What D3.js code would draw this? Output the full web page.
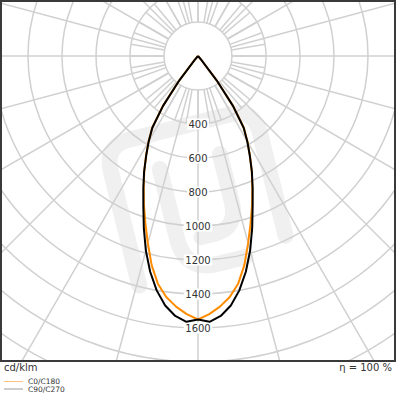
<!DOCTYPE html>
<html>
<head>
<meta charset="utf-8">
<script src="https://cdn.jsdelivr.net/npm/d3@7"></script>
<style>
  html, body { margin: 0; padding: 0; background: #fff; }
  svg { display: block; font-family: "DejaVu Sans", sans-serif; }
</style>
</head>
<body>
<svg id="chart" width="396" height="396"></svg>
<script>
// gamma angles (deg, 0 = straight down) and intensities in cd/klm
const gammaDeg = [0, 2.5, 5, 7.5, 10, 12.5, 15, 17.5, 20, 22.5, 25, 27.5, 30, 32.5, 35, 37.5, 40, 42.5, 45, 90, 180];
const c0c180 = [1550, 1520, 1480, 1430, 1360, 1260, 1140, 1030, 930, 835, 748, 662, 582, 502, 362, 182, 32, 0, 0, 0, 0];
const c90c270 = [1550, 1565, 1535, 1480, 1400, 1300, 1185, 1060, 940, 840, 750, 660, 580, 500, 360, 180, 30, 0, 0, 0, 0];

const ringValues = [200, 400, 600, 800, 1000, 1200, 1400, 1600, 1800, 2000, 2200, 2400];
const ringLabels = [400, 600, 800, 1000, 1200, 1400, 1600];

const unitLabel = 'cd/klm';
const etaLabel = 'η = 100 %';
const seriesNames = ['C0/C180', 'C90/C270'];

const width = 396;
const frame = { x: 1, y: 1, w: 394, h: 360 };
const cx = 198, cy = 56;

const svg = d3.select('#chart');

const r = d3.scaleLinear().domain([0, 200]).range([0, 34]);

svg.append('defs').append('clipPath')
    .attr('id', 'frame-clip')
  .append('rect')
    .attr('x', frame.x + 1)
    .attr('y', frame.y + 1)
    .attr('width', frame.w - 2)
    .attr('height', frame.h - 2);

const plot = svg.append('g').attr('clip-path', 'url(#frame-clip)');

// faint watermark logo
const wm = plot.append('g')
    .attr('transform', 'rotate(-14,200,190)')
    .attr('fill', 'none')
    .attr('stroke', '#f0f0f0')
    .attr('stroke-width', 16)
    .attr('stroke-linecap', 'round')
    .attr('stroke-linejoin', 'round');
wm.append('path')
    .attr('d', 'M118,268 L118,150 Q118,124 144,124 L248,124 Q272,124 272,150 L272,255');
wm.append('path')
    .attr('d', 'M166,160 L166,232 Q166,266 200,266 L228,266');
wm.append('path')
    .attr('d', 'M228,160 L228,208 Q228,236 204,236 L190,236');

// grid rings
const grid = plot.append('g').attr('transform', `translate(${cx},${cy})`);

grid.selectAll('circle.ring')
  .data(ringValues)
  .enter().append('circle')
    .attr('class', 'ring')
    .attr('r', (d) => r(d))
    .attr('fill', 'none')
    .attr('stroke', '#d0d0d0')
    .attr('stroke-width', 1.5);

// radial spokes: every 15 deg across the whole plot, every 10 deg in the inner band
const outerAngles = d3.range(0, 360, 15);
const innerAngles = d3.range(0, 360, 10);

const spokes = outerAngles.map((a) => ({ a, r0: r(200), r1: r(2600) }))
  .concat(innerAngles.map((a) => ({ a, r0: r(200), r1: r(400) })));

grid.selectAll('line.spoke')
  .data(spokes)
  .enter().append('line')
    .attr('class', 'spoke')
    .attr('x1', (d) => d.r0 * Math.sin(d.a * Math.PI / 180))
    .attr('y1', (d) => -d.r0 * Math.cos(d.a * Math.PI / 180))
    .attr('x2', (d) => d.r1 * Math.sin(d.a * Math.PI / 180))
    .attr('y2', (d) => -d.r1 * Math.cos(d.a * Math.PI / 180))
    .attr('stroke', '#d0d0d0')
    .attr('stroke-width', 1.5);

// ring labels on the downward axis
const labels = grid.selectAll('g.label')
  .data(ringLabels)
  .enter().append('g')
    .attr('class', 'label')
    .attr('transform', (d) => `translate(0,${r(d)})`);

labels.append('rect')
    .attr('x', (d) => -String(d).length * 3.3 - 1)
    .attr('y', -5.5)
    .attr('width', (d) => String(d).length * 6.6 + 2)
    .attr('height', 11)
    .attr('fill', '#fff');

labels.append('text')
    .attr('text-anchor', 'middle')
    .attr('dy', '0.35em')
    .attr('font-size', 10)
    .attr('fill', '#333')
    .text((d) => d);

// intensity curves, left half mirrored from right half
const radialLine = d3.lineRadial()
    .angle((d) => d[0])
    .radius((d) => r(d[1]));

function polarPoints(values) {
  const right = gammaDeg.map((g, i) => [Math.PI - g * Math.PI / 180, values[i]]);
  const left = gammaDeg.map((g, i) => [Math.PI + g * Math.PI / 180, values[i]]).reverse();
  return left.concat(right);
}

const curves = plot.append('g').attr('transform', `translate(${cx},${cy})`);

curves.append('path')
    .datum(polarPoints(c0c180))
    .attr('d', radialLine)
    .attr('fill', 'none')
    .attr('stroke', '#ff8c00')
    .attr('stroke-width', 2)
    .attr('stroke-linejoin', 'round');

curves.append('path')
    .datum(polarPoints(c90c270))
    .attr('d', radialLine)
    .attr('fill', 'none')
    .attr('stroke', '#000')
    .attr('stroke-width', 2)
    .attr('stroke-linejoin', 'round');

// frame
svg.append('rect')
    .attr('x', frame.x)
    .attr('y', frame.y)
    .attr('width', frame.w)
    .attr('height', frame.h)
    .attr('fill', 'none')
    .attr('stroke', '#3a3a3a')
    .attr('stroke-width', 2);

// footer texts
svg.append('text')
    .attr('x', 4)
    .attr('y', 371)
    .attr('font-size', 10)
    .attr('fill', '#333')
    .text(unitLabel);

svg.append('text')
    .attr('x', width - 4)
    .attr('y', 371)
    .attr('text-anchor', 'end')
    .attr('font-size', 10)
    .attr('fill', '#333')
    .text(etaLabel);

// legend
const legendColors = ['#ffc080', '#9a9a9a'];
const legend = svg.selectAll('g.legend')
  .data(seriesNames)
  .enter().append('g')
    .attr('class', 'legend')
    .attr('transform', (d, i) => `translate(4,${381.5 + i * 7.5})`);

legend.append('line')
    .attr('x1', 0)
    .attr('x2', 19)
    .attr('stroke', (d, i) => legendColors[i])
    .attr('stroke-width', 1);

legend.append('text')
    .attr('x', 24)
    .attr('dy', '0.35em')
    .attr('font-size', 7.5)
    .attr('fill', '#333')
    .text((d) => d);
</script>
</body>
</html>
